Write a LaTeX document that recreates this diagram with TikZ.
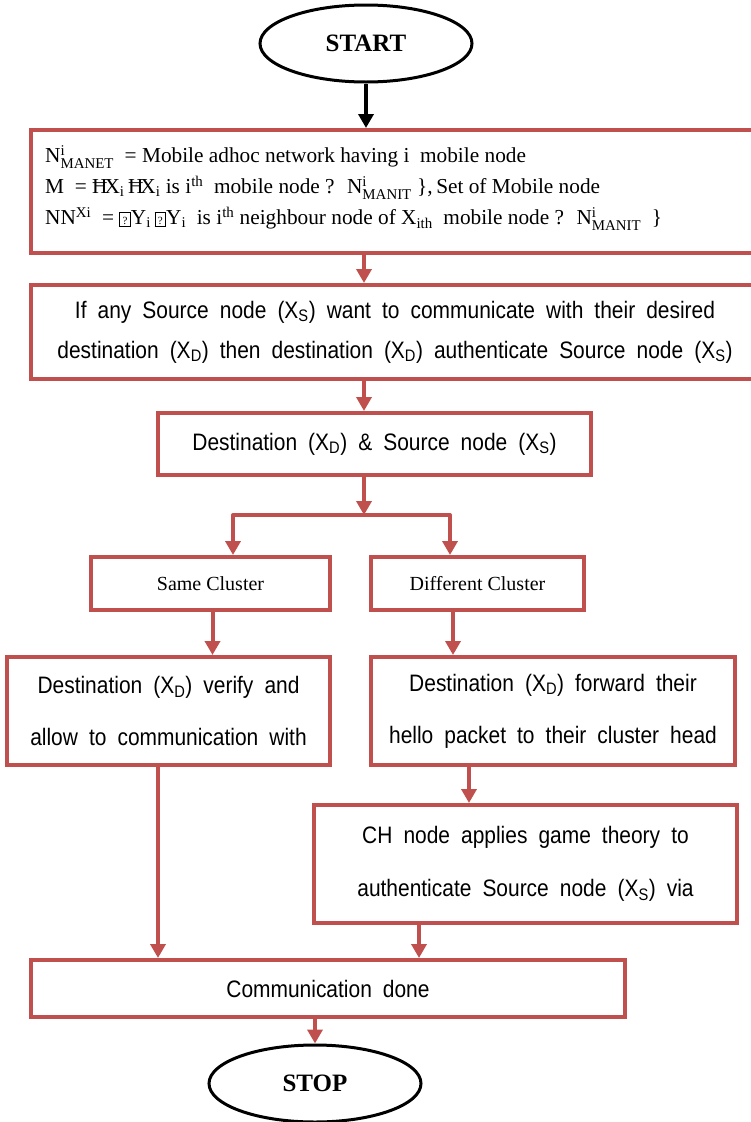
\documentclass[tikz,border=0pt]{standalone}
\usepackage{amsmath}
\usepackage{fontspec}
\setmainfont{Liberation Serif}
\newfontfamily\narfont[FakeStretch=0.88,WordSpace=1.9]{Liberation Sans}
\newfontfamily\camfont{Liberation Serif}
\usetikzlibrary{arrows.meta,shapes.geometric}
\definecolor{rd}{HTML}{C0504D}
\newcommand{\supsub}[2]{$^{\text{#1}}_{\text{#2}}$}
\newcommand{\qbx}{{\fboxsep=0.5pt\fboxrule=0.8pt\fbox{\makebox[9pt]{\rule{0pt}{12pt}\fontsize{11}{11}\selectfont ?}}}}
\tikzset{
  rbox/.style={draw=rd, line width=4pt, inner sep=0pt, align=center, fill=white},
  oval/.style={ellipse, draw=black, line width=3pt, inner sep=0pt,
    minimum width=212pt, minimum height=77pt, font=\fontsize{25}{30}\selectfont\bfseries},
  rline/.style={draw=rd, line width=4pt},
  rarr/.style={draw=rd, line width=4pt, -{Triangle[width=15pt,length=14pt]}},
  barr/.style={draw=black, line width=3.5pt, -{Triangle[width=15pt,length=14pt]}},
  nar/.style={font=\narfont\fontsize{23.8}{#1}\selectfont},
  tms/.style={font=\fontsize{20}{24}\selectfont}
}
\begin{document}
\begin{tikzpicture}[x=1pt,y=-1pt]
\useasboundingbox (0,0) rectangle (751,1122);
\clip (0,0) rectangle (751,1122);
\fill[white] (0,0) rectangle (751,1122);

\node[oval] (start) at (366,43.5) {START};

\node[rbox, minimum width=740pt, minimum height=123pt] (b1) at (401,191.5) {};
\node[anchor=west, align=left, inner sep=0pt, font=\camfont\fontsize{21.3}{31}\selectfont] (t1) at (45,188)
{N\supsub{i}{MANET} \ = Mobile adhoc network having i \ mobile node\\
M \ = Ħ\kern-3pt X\textsubscript{i}\,Ħ\kern-3pt X\textsubscript{i} is i\textsuperscript{th} \ mobile node ? \ N\supsub{i}{MANIT} \},\,Set of Mobile node\\
NN\textsuperscript{Xi} \ = \qbx Y\textsubscript{i}\,\qbx Y\textsubscript{i} \ is i\textsuperscript{th} neighbour node of X\textsubscript{ith} \ mobile node ? \ N\supsub{i}{MANIT} \ \}};

\node[rbox, nar=40, minimum width=728pt, minimum height=94pt] (b2) at (395,332)
{If any Source node (X\textsubscript{S}) want to communicate with their desired\\
destination (X\textsubscript{D}) then destination (X\textsubscript{D}) authenticate Source node (X\textsubscript{S})};

\node[rbox, nar=26, minimum width=433pt, minimum height=62pt] (b3) at (374.5,444)
{Destination (X\textsubscript{D}) \& Source node (X\textsubscript{S})};

\node[rbox, tms, minimum width=239pt, minimum height=53pt] (same) at (210.5,583.5) {Same Cluster};
\node[rbox, tms, minimum width=213pt, minimum height=53pt] (diff) at (477.5,583.5) {Different Cluster};

\node[rbox, nar=52, minimum width=323pt, minimum height=108pt] (verify) at (168.5,711)
{Destination (X\textsubscript{D}) verify and\\ allow to communication with};
\node[rbox, nar=52, minimum width=364pt, minimum height=108pt] (fwd) at (553,711)
{Destination (X\textsubscript{D}) forward their\\ hello packet to their cluster head};

\node[rbox, nar=53, minimum width=423pt, minimum height=118pt] (ch) at (525.5,864)
{CH node applies game theory to\\ authenticate Source node (X\textsubscript{S}) via};

\node[rbox, nar=26, minimum width=594pt, minimum height=57pt] (comm) at (328,988.5) {Communication done};

\node[oval] (stop) at (315,1083.5) {STOP};

% connectors
\draw[barr] (start.south) -- (start.south |- b1.north);
\coordinate (mx) at (364,0);
\draw[rarr] (b1.south -| mx) -- (b2.north -| mx);
\draw[rarr] (b2.south -| mx) -- (b3.north -| mx);
\coordinate (sp) at (364,515);
\coordinate (spl) at (233,515);
\coordinate (spr) at (450,515);
\draw[rarr] (b3.south -| sp) -- (sp);
\draw[rline, line cap=round] (spl) -- (spr);
\draw[rarr] (spl) -- (spl |- same.north);
\draw[rarr] (spr) -- (spr |- diff.north);
\draw[rarr] ([xshift=2pt]same.south) -- ([xshift=2pt]same.south |- verify.north);
\draw[rarr] ([xshift=-24.5pt]diff.south) -- ([xshift=-24.5pt]diff.south |- fwd.north);
\draw[rarr] ([xshift=-84pt]fwd.south) -- ([xshift=-84pt]fwd.south |- ch.north);
\draw[rarr] ([xshift=-10.5pt]verify.south) -- ([xshift=-10.5pt]verify.south |- comm.north);
\draw[rarr] ([xshift=-106.5pt]ch.south) -- ([xshift=-106.5pt]ch.south |- comm.north);
\draw[rarr] (stop.north |- comm.south) -- (stop.north);
\end{tikzpicture}
\end{document}
